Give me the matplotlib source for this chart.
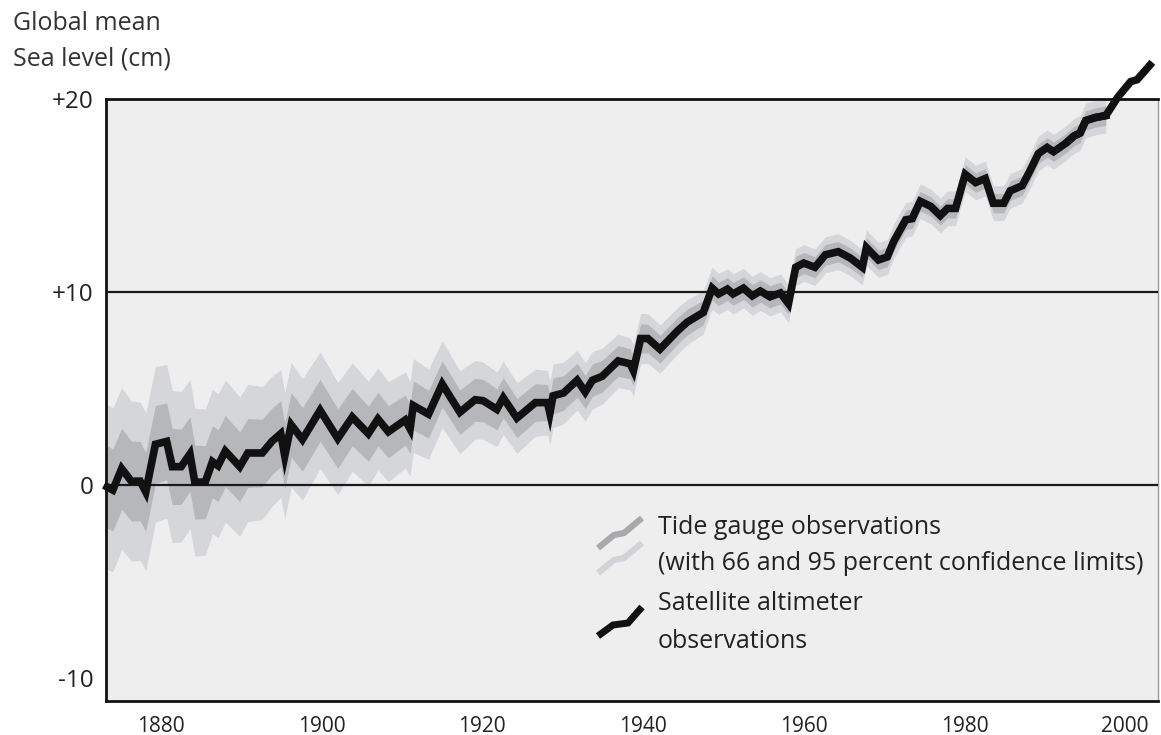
import numpy as np
import matplotlib
matplotlib.use("Agg")
import matplotlib.pyplot as plt
from matplotlib.lines import Line2D

plt.rcParams['font.family'] = ['Open Sans', 'DejaVu Sans']

# ---- data ----
tide_years = [1873.3, 1874.0, 1875.1, 1876.3, 1877.4, 1878.1, 1879.3, 1880.7, 1881.4, 1882.5,
              1883.6, 1884.2, 1885.5, 1886.4, 1887.1, 1888.0, 1889.8, 1890.8, 1892.6, 1893.8,
              1894.9, 1895.4, 1896.2, 1897.6, 1899.8, 1902.0, 1903.8, 1905.8, 1907.0, 1908.3,
              1910.4, 1911.0, 1911.4, 1913.3, 1915.0, 1917.2, 1919.1, 1920.1, 1921.8, 1922.6,
              1924.3, 1926.6, 1928.1, 1928.4, 1928.8, 1930.1, 1931.8, 1932.8, 1933.7, 1934.9,
              1936.9, 1938.4, 1938.8, 1939.7, 1940.6, 1942.1, 1944.3, 1945.5, 1946.3, 1947.5,
              1948.6, 1949.4, 1950.5, 1951.2, 1952.5, 1953.6, 1954.6, 1955.8, 1957.1, 1958.1,
              1959.0, 1960.0, 1961.4, 1962.7, 1964.3, 1965.8, 1967.3, 1967.8, 1969.3, 1970.4,
              1971.2, 1972.7, 1973.5, 1974.5, 1975.8, 1977.0, 1977.9, 1978.9, 1980.1, 1981.4,
              1982.6, 1983.6, 1984.9, 1985.7, 1987.2, 1988.2, 1989.2, 1990.3, 1991.1, 1992.6,
              1993.6, 1994.4, 1995.1, 1996.3, 1997.6]
tide_level = [-0.10, -0.26, 0.85, 0.20, 0.20, -0.36, 2.11, 2.26, 0.95, 0.95,
              1.61, 0.15, 0.15, 1.21, 1.00, 1.76, 0.95, 1.66, 1.66, 2.26,
              2.66, 1.51, 3.12, 2.36, 3.87, 2.41, 3.52, 2.66, 3.42, 2.76,
              3.37, 2.91, 4.12, 3.67, 5.23, 3.77, 4.42, 4.37, 3.92, 4.52,
              3.47, 4.27, 4.27, 3.72, 4.62, 4.77, 5.43, 4.82, 5.43, 5.63,
              6.43, 6.28, 5.93, 7.59, 7.59, 7.04, 7.99, 8.44, 8.64, 8.94,
              10.20, 9.90, 10.15, 9.90, 10.20, 9.80, 10.05, 9.75, 9.95, 9.40,
              11.28, 11.50, 11.28, 11.93, 12.09, 11.76, 11.28, 12.30, 11.66, 11.82,
              12.62, 13.74, 13.80, 14.70, 14.44, 13.96, 14.33, 14.33, 16.10, 15.67,
              15.88, 14.60, 14.60, 15.24, 15.51, 16.31, 17.17, 17.49, 17.27, 17.70,
              18.07, 18.24, 18.88, 19.04, 19.14]

# confidence half-widths (cm) read per decade
ci_decades = [1870, 1880, 1890, 1900, 1910, 1920, 1930, 1940, 1950, 1960, 1970, 1980, 1990, 2000]
ci66_half = [2.2, 2.0, 1.8, 1.6, 1.3, 1.1, 0.9, 0.75, 0.6, 0.55, 0.5, 0.5, 0.5, 0.5]
ci95_half = [4.4, 4.0, 3.6, 3.0, 2.5, 2.0, 1.6, 1.3, 1.05, 0.95, 0.9, 0.9, 0.9, 0.9]

sat_years = [1992.6, 1993.6, 1994.4, 1995.1, 1996.3, 1997.6, 1998.2, 1999.1, 2000.7, 2001.5, 2003.4]
sat_level = [17.70, 18.07, 18.24, 18.88, 19.04, 19.14, 19.52, 20.10, 20.90, 21.00, 21.90]

xticks = [1880, 1900, 1920, 1940, 1960, 1980, 2000]
yticks = [-10, 0, 10, 20]
ytick_labels = ['-10', '0', '+10', '+20']

# ---- figure ----
W, H = 1161, 735
fig = plt.figure(figsize=(W / 100, H / 100), dpi=100)
fig.patch.set_facecolor('white')
ax = fig.add_axes([106 / W, 1 - 701 / H, (1158 - 106) / W, (701 - 99) / H])
ax.set_facecolor('#eeeeee')

ty = np.array(tide_years)
tl = np.array(tide_level)
h66 = np.interp(ty, ci_decades, ci66_half)
h95 = np.interp(ty, ci_decades, ci95_half)

light = '#d5d6d9'
dark = '#b6b7bb'
ax.fill_between(ty, tl - h95, tl + h95, color=light, lw=0, zorder=1, clip_on=False)
ax.fill_between(ty, tl - h66, tl + h66, color=dark, lw=0, zorder=2, clip_on=False)

for yv in (0, 10):
    ax.axhline(yv, color='#1a1a1a', lw=1.6, zorder=3)

ax.plot(ty, tl, color='#111111', lw=5.5, solid_joinstyle='miter', zorder=5, clip_on=False)
ax.plot(sat_years, sat_level, color='#111111', lw=5.5, solid_joinstyle='miter',
        solid_capstyle='butt', zorder=5, clip_on=False)

ax.set_xlim(1873.15, 2004.1)
ax.set_ylim(-11.19, 20.0)
ax.set_xticks(xticks)
ax.set_xticklabels([str(t) for t in xticks])
ax.set_yticks(yticks)
ax.set_yticklabels(ytick_labels)
ax.tick_params(axis='both', length=0, colors='#222222')
ax.tick_params(axis='x', pad=11, labelsize=15)
ax.tick_params(axis='y', pad=9, labelsize=17.5)

for s in ('left', 'bottom', 'top'):
    ax.spines[s].set_color('#111111')
    ax.spines[s].set_linewidth(2.0)
ax.spines['right'].set_color('#999999')
ax.spines['right'].set_linewidth(1.0)

# ---- title ----
fig.text(13 / W, 1 - 23 / H, 'Global mean', fontsize=18, color='#333333', va='center', ha='left')
fig.text(13 / W, 1 - 59 / H, 'Sea level (cm)', fontsize=18, color='#333333', va='center', ha='left')

# ---- legend (drawn in figure pixel coordinates) ----
def fx(x):
    return x / W

def fy(y):
    return 1 - y / H

def glyph(xs, ys, color, lw):
    fig.add_artist(Line2D([fx(x) for x in xs], [fy(y) for y in ys], color=color, lw=lw,
                          solid_joinstyle='miter', solid_capstyle='butt'))

glyph([598, 614, 624, 642], [548, 535, 533, 518], '#a9a9ad', 4.5)
glyph([598, 614, 624, 642], [573, 560, 558, 543], '#d2d3d6', 4.5)
glyph([598, 613, 628, 642], [636, 625, 623, 607], '#111111', 5)

leg_fs = 18
fig.text(fx(658), fy(527), 'Tide gauge observations', fontsize=leg_fs, color='#222222', va='center')
fig.text(fx(658), fy(564), '(with 66 and 95 percent confidence limits)', fontsize=leg_fs,
         color='#222222', va='center')
fig.text(fx(658), fy(603), 'Satellite altimeter', fontsize=leg_fs, color='#222222', va='center')
fig.text(fx(658), fy(642), 'observations', fontsize=leg_fs, color='#222222', va='center')

fig.savefig('out.png', dpi=100, facecolor='white')
